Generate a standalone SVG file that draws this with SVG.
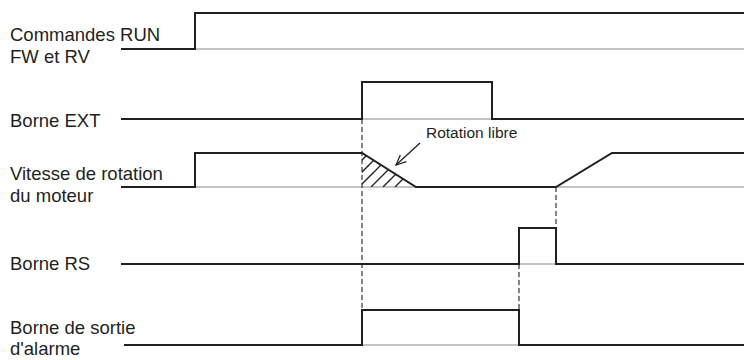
<svg xmlns="http://www.w3.org/2000/svg" width="744" height="360" viewBox="0 0 744 360">
<style>
.lbl{font-family:"Liberation Sans",Arial,sans-serif;font-size:18.5px;fill:#231f20}
.note{font-family:"Liberation Sans",Arial,sans-serif;font-size:15.5px;fill:#231f20}
.sig{fill:none;stroke:#231f20;stroke-width:2;stroke-linejoin:miter}
.base{fill:none;stroke:#8a8a8a;stroke-width:1.2}
.dash{fill:none;stroke:#444;stroke-width:1.3;stroke-dasharray:5 3}
.hatch{fill:none;stroke:#231f20;stroke-width:1.3}
</style>
<defs>
<clipPath id="tri"><polygon points="362,153 416,187 362,187"/></clipPath>
<marker id="arr" markerWidth="12" markerHeight="12" refX="11" refY="6" orient="auto" markerUnits="userSpaceOnUse">
<path d="M1,1.5 L11,6 L1,10.5" fill="none" stroke="#231f20" stroke-width="1.2"/>
</marker>
</defs>

<g id="labels">
<g id="run-label"><text class="lbl" x="10" y="41">Commandes RUN</text><text class="lbl" x="10" y="63">FW et RV</text></g>
<g id="ext-label"><text class="lbl" x="10" y="127">Borne EXT</text></g>
<g id="speed-label"><text class="lbl" x="10" y="180">Vitesse de rotation</text><text class="lbl" x="10" y="202">du moteur</text></g>
<g id="rs-label"><text class="lbl" x="10" y="270">Borne RS</text></g>
<g id="alarm-label"><text class="lbl" x="10" y="334">Borne de sortie</text><text class="lbl" x="10" y="355">d'alarme</text></g>
</g>

<g id="baselines">
<line class="base" x1="195" y1="49" x2="744" y2="49"/>
<line class="base" x1="362" y1="119" x2="492" y2="119"/>
<line class="base" x1="195" y1="187" x2="744" y2="187"/>
<line class="base" x1="519" y1="264" x2="556" y2="264"/>
<line class="base" x1="362" y1="345" x2="519" y2="345"/>
</g>

<g id="connectors">
<line class="dash" x1="362" y1="119" x2="362" y2="310"/>
<line class="dash" x1="556" y1="187" x2="556" y2="228"/>
<line class="dash" x1="519" y1="264" x2="519" y2="310"/>
<line class="hatch" x1="420" y1="143" x2="396" y2="165" marker-end="url(#arr)"/>
</g>

<g id="hatching" clip-path="url(#tri)">
<line class="hatch" x1="352" y1="170" x2="372" y2="150"/>
<line class="hatch" x1="352" y1="182" x2="384" y2="150"/>
<line class="hatch" x1="359" y1="187" x2="396" y2="150"/>
<line class="hatch" x1="371" y1="187" x2="408" y2="150"/>
<line class="hatch" x1="383" y1="187" x2="420" y2="150"/>
<line class="hatch" x1="395" y1="187" x2="432" y2="150"/>
</g>

<g id="run-signal"><polyline class="sig" points="121,49 195,49 195,13 744,13"/></g>
<g id="ext-signal"><polyline class="sig" points="121,119 362,119 362,82 492,82 492,119 744,119"/></g>
<g id="speed-signal"><polyline class="sig" points="121,187 195,187 195,153 362,153 416,187 556,187 612,153 744,153"/></g>
<g id="rs-signal"><polyline class="sig" points="121,264 519,264 519,228 556,228 556,264 744,264"/></g>
<g id="alarm-signal"><polyline class="sig" points="124,345 362,345 362,310 519,310 519,345 744,345"/></g>
<g id="note"><text class="note" x="426" y="138">Rotation libre</text></g>
</svg>
